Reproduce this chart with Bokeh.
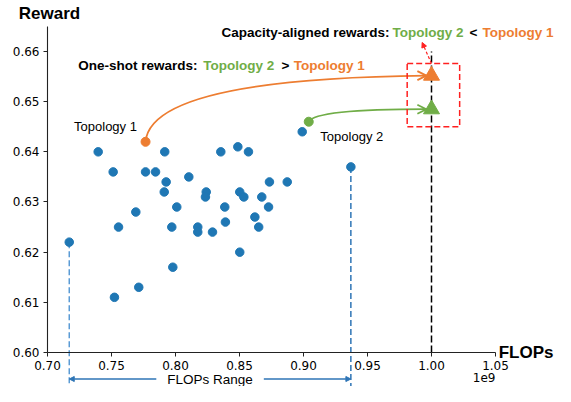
from bokeh.plotting import figure
from bokeh.models import (Range1d, FixedTicker, PrintfTickFormatter, Label,
                          Arrow, OpenHead, NormalHead)
from bokeh.embed import file_html
from bokeh.resources import INLINE

# ---------------- data ----------------
# candidate topologies: FLOPs (x 1e9) and one-shot reward
flops = [0.7396, 0.7916, 0.7513, 0.7844, 0.7766, 0.7927, 0.8104, 0.7912, 0.8240,
         0.8234, 0.8010, 0.7690, 0.7555, 0.7971, 0.8174, 0.8174, 0.8289, 0.7170,
         0.7979, 0.7713, 0.7523, 0.8990, 0.8354, 0.8487, 0.8570, 0.8734, 0.8873,
         0.9370, 0.8502, 0.8534, 0.8674, 0.8385, 0.8727, 0.8620, 0.8390, 0.8650,
         0.8502]
reward = [0.640, 0.640, 0.636, 0.636, 0.636, 0.634, 0.635, 0.632, 0.632,
          0.631, 0.629, 0.628, 0.625, 0.625, 0.625, 0.624, 0.624, 0.622,
          0.617, 0.613, 0.611, 0.644, 0.640, 0.641, 0.640, 0.634, 0.634,
          0.637, 0.632, 0.631, 0.631, 0.629, 0.629, 0.627, 0.626, 0.625,
          0.620]

topo_names = ["Topology 1", "Topology 2"]
topo_colors = ["#ED7D31", "#70AD47"]
oneshot_flops = [0.7766, 0.9041]
oneshot_reward = [0.642, 0.646]
aligned_flops = [1.00, 1.00]
aligned_reward = [0.6552, 0.6485]
target_flops = 1.00

x_ticks = [0.70, 0.75, 0.80, 0.85, 0.90, 0.95, 1.00, 1.05]
y_ticks = [0.60, 0.61, 0.62, 0.63, 0.64, 0.65, 0.66]

BLUE = "#1f77b4"

# ---------------- layout helpers ----------------
W, H = 555, 386
X_AX, PPU_X = 47, 1280.0        # canvas x of 0.70, pixels per unit
Y_AX, PPU_Y = 352, 5016.7       # canvas y of 0.60, pixels per unit

def px_x(px):
    return 0.70 + (px - X_AX) / PPU_X

def px_y(py):
    # reference-picture pixel row -> reward value
    return 0.60 + (361 - py) / 5150.0

def cy(y):
    # canvas row -> reward value
    return 0.60 + (Y_AX - y) / PPU_Y

X_LEFT, X_RIGHT = px_x(0), px_x(W)
Y_BOTTOM, Y_TOP = cy(H), cy(0)
p = figure(width=W, height=H, x_range=Range1d(X_LEFT, X_RIGHT),
           y_range=Range1d(Y_BOTTOM, Y_TOP),
           output_backend="svg", toolbar_location=None,
           min_border_left=0, min_border_right=0, min_border_top=0,
           min_border_bottom=0)
p.outline_line_color = None
p.grid.visible = False
p.background_fill_color = "white"

# axes (placed inside the frame so that annotations around them are visible)
p.xaxis.fixed_location = 0.60
p.yaxis.fixed_location = 0.70
p.xaxis.bounds = (0.70, 1.05)
p.yaxis.bounds = (0.60, 0.665)
p.xaxis.ticker = FixedTicker(ticks=x_ticks)
p.yaxis.ticker = FixedTicker(ticks=y_ticks)
p.xaxis.formatter = PrintfTickFormatter(format="%.2f")
p.yaxis.formatter = PrintfTickFormatter(format="%.2f")
for ax in (p.xaxis, p.yaxis):
    ax.axis_line_color = "#222222"
    ax.axis_line_width = 1.1
    ax.major_tick_line_color = "#222222"
    ax.major_tick_out = 4
    ax.major_tick_in = 0
    ax.minor_tick_line_color = None
    ax.major_label_text_font = "DejaVu Sans"
    ax.major_label_text_font_size = "12px"
    ax.major_label_text_color = "black"
    ax.major_label_standoff = 4

# capacity line
p.segment(x0=[target_flops], y0=[0.60], x1=[target_flops], y1=[0.66],
          line_color="black", line_width=1.5, line_dash="7 3")

# FLOPs range vertical dashed lines
i_min = flops.index(min(flops))
i_max = flops.index(max(flops))
p.segment(x0=[flops[i_min]], y0=[reward[i_min]], x1=[flops[i_min]], y1=[Y_BOTTOM],
          line_color="#5B9BD5", line_width=1.5, line_dash="6 3")
p.segment(x0=[flops[i_max]], y0=[reward[i_max]], x1=[flops[i_max]], y1=[Y_BOTTOM],
          line_color="#2E75B6", line_width=1.5, line_dash="6 3")

# scatter of candidates
p.scatter(flops, reward, size=8.5, color=BLUE, line_color=BLUE)

# curved arrows from one-shot to aligned
ctrl_dx = [0.004, 0.005]
ctrl_dy = [-0.0006, 0.0]
for i in range(2):
    xe = aligned_flops[i] - 0.004
    ye = aligned_reward[i]
    p.quadratic(x0=[oneshot_flops[i]], y0=[oneshot_reward[i]], x1=[xe], y1=[ye],
                cx=[oneshot_flops[i] + ctrl_dx[i]], cy=[ye + ctrl_dy[i]],
                line_color=topo_colors[i], line_width=1.8)
    p.add_layout(Arrow(end=OpenHead(size=9, line_color=topo_colors[i], line_width=1.8),
                       x_start=xe - 0.003, y_start=ye, x_end=xe, y_end=ye,
                       line_color=topo_colors[i], line_width=1.8))

p.scatter(oneshot_flops, oneshot_reward, size=9, color=topo_colors)
p.scatter(aligned_flops, aligned_reward, marker="triangle", size=16, color=topo_colors)

# red dashed box around aligned points
box_top = max(aligned_reward) + 0.0024
p.quad(left=[target_flops - 0.019], right=[target_flops + 0.022],
       bottom=[min(aligned_reward) - 0.0035], top=[box_top],
       fill_color=None, line_color="#FF2020", line_width=1.5, line_dash="6 3")
p.add_layout(Arrow(end=NormalHead(size=5, fill_color="#FF2020", line_color="#FF2020"),
                   x_start=target_flops, y_start=box_top,
                   x_end=target_flops - 0.0073, y_end=box_top + 0.0042,
                   line_color="#FF2020", line_width=1.2, line_dash="3 2"))

# FLOPs range arrows
row_y = cy(378.5)
mid = (flops[i_min] + flops[i_max]) / 2
for xs, xe in ((mid - 0.042, flops[i_min]), (mid + 0.042, flops[i_max])):
    p.add_layout(Arrow(end=NormalHead(size=5, fill_color="#2E75B6", line_color="#2E75B6"),
                       x_start=xs, y_start=row_y, x_end=xe, y_end=row_y,
                       line_color="#2E75B6", line_width=1.3))

def lab(text, x, y, size, color="black", bold=False, align="left",
        font="Liberation Sans"):
    p.add_layout(Label(x=x, y=y, text=text, text_font=font,
                       text_font_size=f"{size}px",
                       text_font_style="bold" if bold else "normal",
                       text_color=color, text_align=align, text_baseline="middle"))

lab("FLOPs Range", mid, row_y, 13.5, align="center")
lab(topo_names[0], px_x(105), px_y(129.3), 13, align="center")
lab(topo_names[1], px_x(351.3), px_y(139.3), 13, align="center")

# headline comparisons
y1 = px_y(33)
lab("Capacity-aligned rewards:", px_x(221), y1, 13.5, bold=True)
lab(topo_names[1], px_x(392), y1, 13.5, color=topo_colors[1], bold=True)
lab("<", px_x(469), y1, 13.5, bold=True)
lab(topo_names[0], px_x(482), y1, 13.5, color=topo_colors[0], bold=True)
y2 = px_y(66.7)
lab("One-shot rewards:", px_x(77.7), y2, 13.5, bold=True)
lab(topo_names[1], px_x(202.7), y2, 13.5, color=topo_colors[1], bold=True)
lab(">", px_x(281), y2, 13.5, bold=True)
lab(topo_names[0], px_x(293.3), y2, 13.5, color=topo_colors[0], bold=True)

# axis titles
lab("Reward", px_x(18.3), px_y(13.3), 17, bold=True)
lab("FLOPs", px_x(553), 0.60, 17, bold=True, align="right")
lab("1e9", 1.05, cy(377), 12, align="right", font="DejaVu Sans")

open("out.html", "w").write(file_html(p, INLINE))
